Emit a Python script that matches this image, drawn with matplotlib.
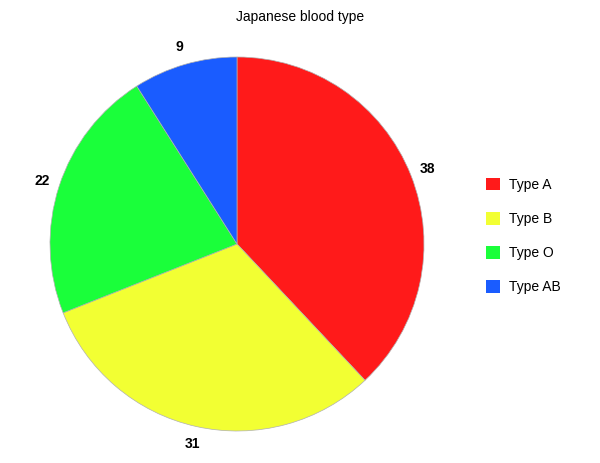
import matplotlib
matplotlib.use("Agg")
import matplotlib.pyplot as plt
from matplotlib.patches import Patch

plt.rcParams['font.family'] = ['Liberation Sans', 'DejaVu Sans']

categories = ["Type A", "Type B", "Type O", "Type AB"]
values = [38, 31, 22, 9]
colors = ["#FF1A1A", "#F2FF33", "#1AFF3A", "#1A5CFF"]

fig = plt.figure(figsize=(6.0, 4.63), dpi=100)
ax = fig.add_axes([(237 - 187) / 600, (463 - 431) / 463, 374 / 600, 374 / 463])
wedges, texts = ax.pie(values, labels=[str(v) for v in values], colors=colors,
                       startangle=90, counterclock=False, labeldistance=1.095,
                       wedgeprops=dict(linewidth=0.5, edgecolor="#B0B0B0"),
                       textprops=dict(fontsize=10, fontweight='bold'))
for t in texts:
    t.set_horizontalalignment('center')
    t.set_verticalalignment('center')
ax.set_aspect('equal')
ax.set_xlim(-1, 1)
ax.set_ylim(-1, 1)

fig.text(300 / 600, 1 - 17 / 463, "Japanese blood type", ha='center', va='center', fontsize=10)

handles = [Patch(facecolor=c, edgecolor='none') for c in colors]
fig.legend(handles, categories, loc='upper left',
           bbox_to_anchor=(486 / 600, 1 - 178 / 463), frameon=False,
           fontsize=10, handlelength=1.0, handleheight=1.0,
           handletextpad=0.65, labelspacing=1.45, borderpad=0, borderaxespad=0)

fig.savefig("out.png", dpi=100)
